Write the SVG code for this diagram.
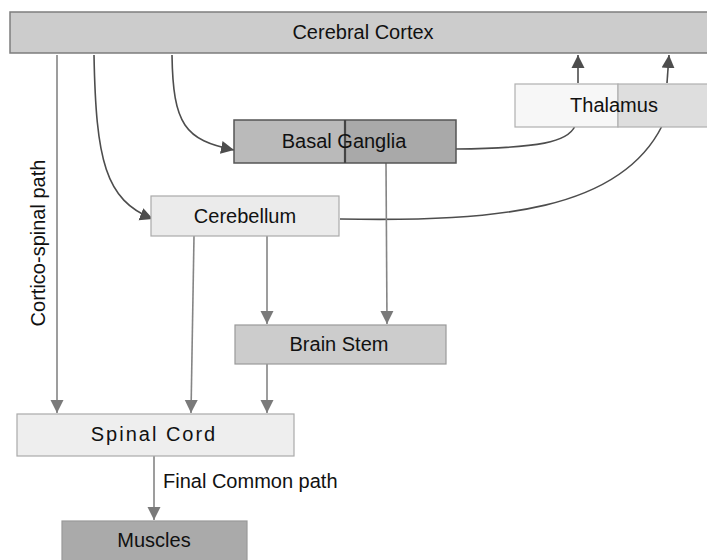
<svg xmlns="http://www.w3.org/2000/svg" width="707" height="560" viewBox="0 0 707 560">
  <style>
    .lbl { font-family: "Liberation Sans", Arial, sans-serif; font-size: 20px; fill: #111; text-anchor: middle; }
    .side { font-family: "Liberation Sans", Arial, sans-serif; font-size: 20px; fill: #111; }
    .straight { fill: none; stroke: #858585; stroke-width: 1.6; }
    .curve { fill: none; stroke: #4d4d4d; stroke-width: 1.6; }
  </style>
  <defs>
    <marker id="headGrey" markerUnits="userSpaceOnUse" markerWidth="14" markerHeight="14" viewBox="0 0 14 14" refX="13" refY="7" orient="auto">
      <path d="M0,0.5 L13,7 L0,13.5 Z" fill="#7a7a7a"/>
    </marker>
    <marker id="headDark" markerUnits="userSpaceOnUse" markerWidth="14" markerHeight="14" viewBox="0 0 14 14" refX="13" refY="7" orient="auto">
      <path d="M0,0.5 L13,7 L0,13.5 Z" fill="#4d4d4d"/>
    </marker>
  </defs>

  <rect width="707" height="560" fill="#ffffff"/>

  <g id="connectors">
    <!-- cortex to cerebellum and basal ganglia -->
    <path class="curve" d="M94,55 C96,160 105,200 153,219" marker-end="url(#headDark)"/>
    <path class="curve" d="M172,55 C173,125 185,140 234,150" marker-end="url(#headDark)"/>
    <!-- loops back through thalamus -->
    <path class="curve" d="M456,149 C540,148 568,142 575,126"/>
    <path class="curve" d="M340,219 C500,222 620,210 662,126"/>
    <path class="curve" d="M578,83 L578,55" marker-end="url(#headDark)"/>
    <path class="curve" d="M667,83 L669,55" marker-end="url(#headDark)"/>
    <!-- descending paths -->
    <path class="straight" d="M57,55 L57,413" marker-end="url(#headGrey)"/>
    <path class="straight" d="M194,236 L191,413" marker-end="url(#headGrey)"/>
    <path class="straight" d="M267,236 L267,324" marker-end="url(#headGrey)"/>
    <path class="straight" d="M386,163 L387,324" marker-end="url(#headGrey)"/>
    <path class="straight" d="M267,364 L267,413" marker-end="url(#headGrey)"/>
    <path class="straight" d="M154,456 L154,520" marker-end="url(#headGrey)"/>
    <text class="side" x="163" y="488">Final Common path</text>
    <text class="side" transform="translate(45,243) rotate(-90)" text-anchor="middle" font-size="21">Cortico-spinal path</text>
  </g>

  <g id="cerebral-cortex">
    <rect x="10" y="12" width="700" height="41" fill="#cccccc" stroke="#7d7d7d" stroke-width="1.5"/>
    <text class="lbl" x="363" y="39">Cerebral Cortex</text>
  </g>

  <g id="thalamus">
    <rect x="515" y="84" width="103" height="43" fill="#f7f7f7" stroke="#b0b0b0" stroke-width="1.2"/>
    <rect x="618" y="84" width="92" height="43" fill="#dedede" stroke="#b0b0b0" stroke-width="1.2"/>
    <text class="lbl" x="614" y="112">Thalamus</text>
  </g>

  <g id="basal-ganglia">
    <rect x="234" y="120" width="111" height="43" fill="#bababa"/>
    <rect x="345" y="120" width="111" height="43" fill="#a9a9a9"/>
    <rect x="234" y="120" width="222" height="43" fill="none" stroke="#555555" stroke-width="1.5"/>
    <line x1="345" y1="120" x2="345" y2="163" stroke="#444444" stroke-width="2.2"/>
    <text class="lbl" x="344" y="148">Basal Ganglia</text>
  </g>

  <g id="cerebellum">
    <rect x="151" y="196" width="188" height="40" fill="#ebebeb" stroke="#aaaaaa" stroke-width="1.2"/>
    <text class="lbl" x="245" y="223">Cerebellum</text>
  </g>

  <g id="brain-stem">
    <rect x="235" y="325" width="211" height="39" fill="#cccccc" stroke="#999999" stroke-width="1.2"/>
    <text class="lbl" x="339" y="351">Brain Stem</text>
  </g>

  <g id="spinal-cord">
    <rect x="17" y="414" width="277" height="42" fill="#eeeeee" stroke="#aaaaaa" stroke-width="1.2"/>
    <text class="lbl" x="154" y="441" letter-spacing="2">Spinal Cord</text>
  </g>

  <g id="muscles">
    <rect x="62" y="521" width="185" height="45" fill="#aaaaaa" stroke="#999999" stroke-width="1.2"/>
    <text class="lbl" x="154" y="547">Muscles</text>
  </g>
</svg>
